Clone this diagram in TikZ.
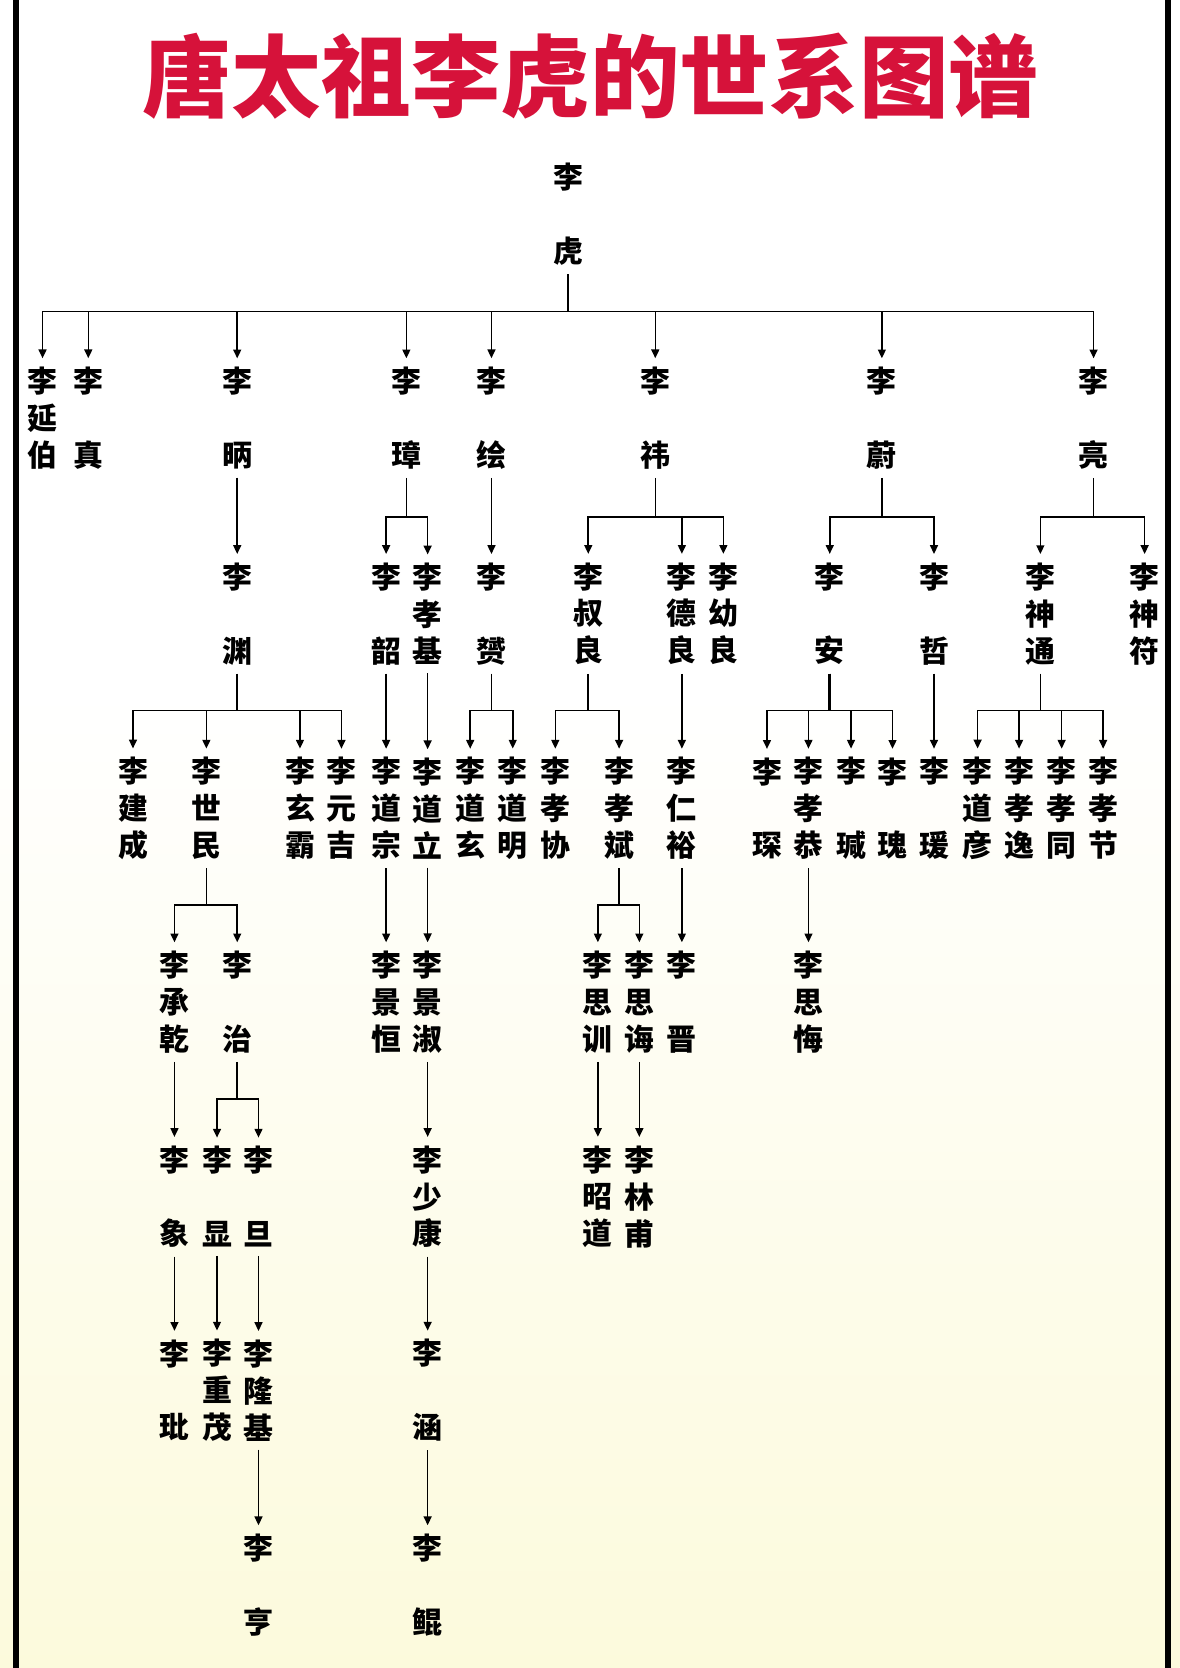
\documentclass[tikz,border=0pt]{standalone}
\usepackage{fontspec}
\newfontfamily\cjk{Noto Sans CJK SC}
\usetikzlibrary{arrows.meta}
\definecolor{titlered}{RGB}{214,18,58}
\definecolor{paleyellow}{RGB}{252,250,220}
\newcommand{\kg}{\phantom{李}}

\begin{document}
\begin{tikzpicture}[x=0.2128mm,y=-0.2128mm,line width=0.9pt,
    >={Triangle[width=4.5pt,length=5pt]},
    ren/.style={align=center,inner sep=4.5pt,font=\cjk\bfseries\fontsize{17pt}{21pt}\selectfont},
    titletext/.style={text=titlered,font=\cjk\bfseries\fontsize{51pt}{60pt}\selectfont}]
  \useasboundingbox (0,0) rectangle (1109,1568);
  % background and frame
  \fill[white] (0,0) rectangle (1109,1568);
  \shade[top color=white,bottom color=paleyellow] (0,650) rectangle (1109,1568);
  \draw[line width=3.3pt] (15,0) -- (15,1568);
  \draw[line width=3.3pt] (1098,0) -- (1098,1568);

  \node[titletext] (title) at (555,72) {唐太祖李虎的世系图谱};

  % root
  \node[ren] (hu) at (534,201.5) {李\\\kg\\虎};

  % gen 1
  \node[ren] (yanbo) at (40,393) {李\\延\\伯};
  \node[ren] (zhen) at (83,393) {李\\\kg\\真};
  \node[ren] (bing) at (223,393) {李\\\kg\\昞};
  \node[ren] (zhang) at (382,393) {李\\\kg\\璋};
  \node[ren] (hui) at (462,393) {李\\\kg\\绘};
  \node[ren] (yi) at (616,393) {李\\\kg\\祎};
  \node[ren] (wei) at (829,393) {李\\\kg\\蔚};
  \node[ren] (liang) at (1028,393) {李\\\kg\\亮};

  % gen 2
  \node[ren] (yuan) at (223,577) {李\\\kg\\渊};
  \node[ren] (shao) at (363,577) {李\\\kg\\韶};
  \node[ren] (xiaoji) at (402,577) {李\\孝\\基};
  \node[ren] (yun) at (462,577) {李\\\kg\\赟};
  \node[ren] (shuliang) at (553,577) {李\\叔\\良};
  \node[ren] (deliang) at (641,577) {李\\德\\良};
  \node[ren] (youliang) at (680,577) {李\\幼\\良};
  \node[ren] (an) at (780,577) {李\\\kg\\安};
  \node[ren] (zhe) at (878,577) {李\\\kg\\哲};
  \node[ren] (shentong) at (978,577) {李\\神\\通};
  \node[ren] (shenfu) at (1076,577) {李\\神\\符};

  % gen 3
  \node[ren] (jiancheng) at (125,760) {李\\建\\成};
  \node[ren] (shimin) at (194,760) {李\\世\\民};
  \node[ren] (xuanba) at (282,760) {李\\玄\\霸};
  \node[ren] (yuanji) at (321,760) {李\\元\\吉};
  \node[ren] (daozong) at (363,760) {李\\道\\宗};
  \node[ren] (daoli) at (402,760) {李\\道\\立};
  \node[ren] (daoxuan) at (442,760) {李\\道\\玄};
  \node[ren] (daoming) at (482,760) {李\\道\\明};
  \node[ren] (xiaoxie) at (522,760) {李\\孝\\协};
  \node[ren] (xiaobin) at (582,760) {李\\孝\\斌};
  \node[ren] (renyu) at (641,760) {李\\仁\\裕};
  \node[ren] (chen) at (721,760) {李\\\kg\\琛};
  \node[ren] (xiaogong) at (760,760) {李\\孝\\恭};
  \node[ren] (jian) at (800,760) {李\\\kg\\瑊};
  \node[ren] (gui) at (839,760) {李\\\kg\\瑰};
  \node[ren] (yuan4) at (878,760) {李\\\kg\\瑗};
  \node[ren] (daoyan) at (919,760) {李\\道\\彦};
  \node[ren] (xiaoyi) at (958,760) {李\\孝\\逸};
  \node[ren] (xiaotong) at (998,760) {李\\孝\\同};
  \node[ren] (xiaojie) at (1037,760) {李\\孝\\节};

  % gen 4
  \node[ren] (chengqian) at (164,942) {李\\承\\乾};
  \node[ren] (zhi) at (223,942) {李\\\kg\\治};
  \node[ren] (jingheng) at (363,942) {李\\景\\恒};
  \node[ren] (jingshu) at (402,942) {李\\景\\淑};
  \node[ren] (sixun) at (562,942) {李\\思\\训};
  \node[ren] (sihui) at (601,942) {李\\思\\诲};
  \node[ren] (jin) at (641,942) {李\\\kg\\晋};
  \node[ren] (sihui3) at (760,942) {李\\思\\悔};

  % gen 5
  \node[ren] (xiang) at (164,1125) {李\\\kg\\象};
  \node[ren] (xian) at (204,1125) {李\\\kg\\显};
  \node[ren] (dan) at (243,1125) {李\\\kg\\旦};
  \node[ren] (shaokang) at (402,1125) {李\\少\\康};
  \node[ren] (zhaodao) at (562,1125) {李\\昭\\道};
  \node[ren] (linfu) at (601,1125) {李\\林\\甫};

  % gen 6
  \node[ren] (pin) at (164,1307) {李\\\kg\\玭};
  \node[ren] (chongmao) at (204,1307) {李\\重\\茂};
  \node[ren] (longji) at (243,1307) {李\\隆\\基};
  \node[ren] (han) at (402,1307) {李\\\kg\\涵};

  % gen 7
  \node[ren] (heng) at (243,1490) {李\\\kg\\亨};
  \node[ren] (kun) at (402,1490) {李\\\kg\\鲲};

  % branch bars
  \coordinate (b0) at (0,293);
  \coordinate (b1) at (0,486);
  \coordinate (b2) at (0,668);
  \coordinate (b3) at (0,851);
  \coordinate (b4) at (0,1033);

  \draw (hu.south) -- (hu.south |- b0);
  \foreach \c in {yanbo,zhen,bing,zhang,hui,yi,wei,liang}
    \draw[->] (hu.south |- b0) -| (\c.north);

  \foreach \p/\cs/\b in {zhang/{shao,xiaoji}/b1, yi/{shuliang,deliang,youliang}/b1,
      wei/{an,zhe}/b1, liang/{shentong,shenfu}/b1,
      yuan/{jiancheng,shimin,xuanba,yuanji}/b2, yun/{daoxuan,daoming}/b2,
      shuliang/{xiaoxie,xiaobin}/b2, an/{chen,xiaogong,jian,gui}/b2,
      shentong/{daoyan,xiaoyi,xiaotong,xiaojie}/b2,
      shimin/{chengqian,zhi}/b3, xiaobin/{sixun,sihui}/b3,
      zhi/{xian,dan}/b4} {
    \draw (\p.south) -- (\p.south |- \b);
    \foreach \c in \cs
      \draw[->] (\p.south |- \b) -| (\c.north);
  }
  \draw[line width=1.8pt] (an.south) -- (an.south |- b2);

  % single lines
  \foreach \p/\c in {bing/yuan, hui/yun, shao/daozong, xiaoji/daoli, deliang/renyu,
      zhe/yuan4, daozong/jingheng, daoli/jingshu, renyu/jin, xiaogong/sihui3,
      chengqian/xiang, jingshu/shaokang, sixun/zhaodao, sihui/linfu,
      xiang/pin, xian/chongmao, dan/longji, shaokang/han, longji/heng, han/kun}
    \draw[->] (\p.south) -- (\c.north);
\end{tikzpicture}
\end{document}
